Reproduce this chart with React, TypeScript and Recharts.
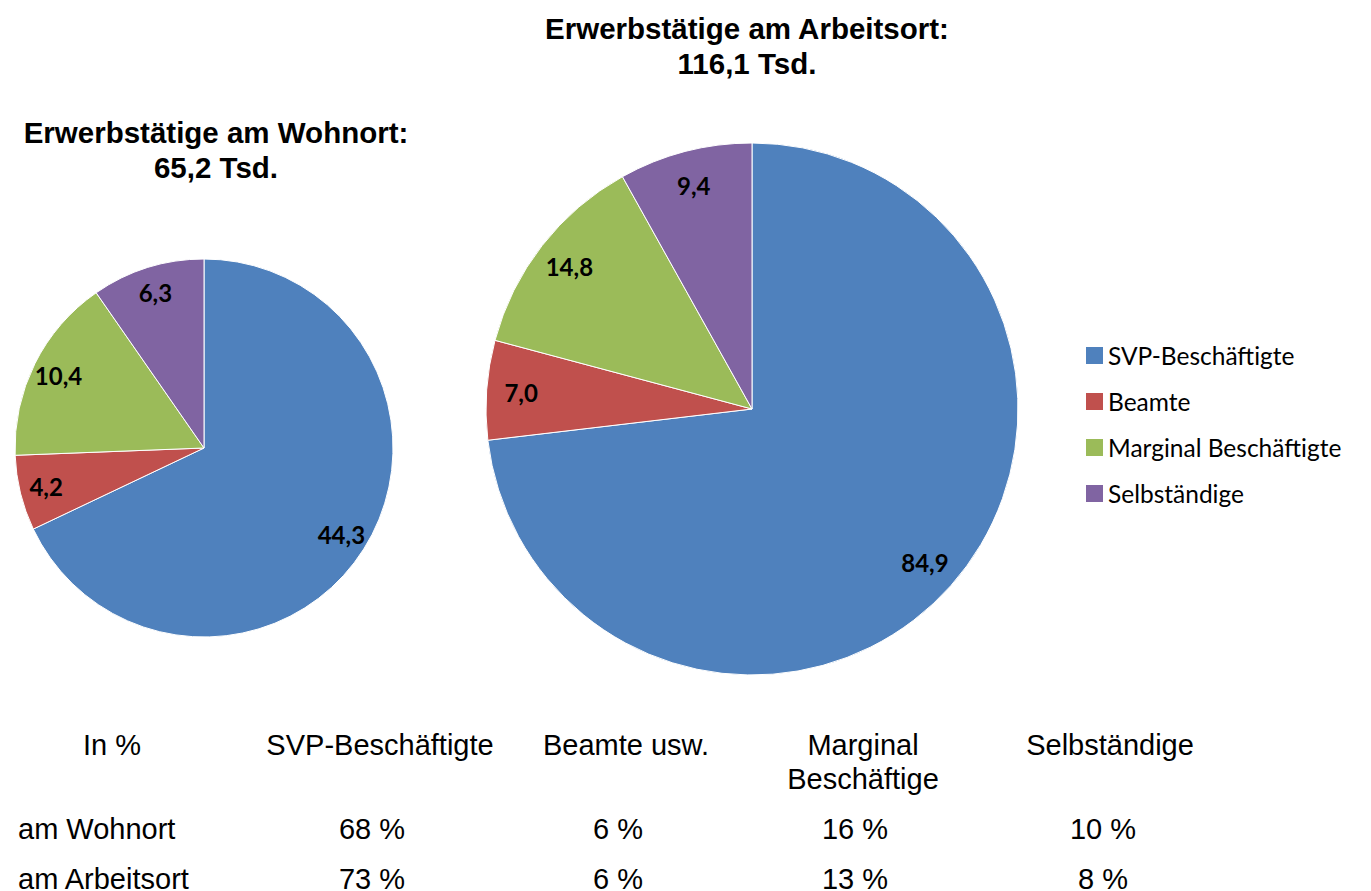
import React from "react";
import { PieChart, Pie, Cell, Legend } from "recharts";

const CATEGORIES = ["SVP-Beschäftigte", "Beamte", "Marginal Beschäftigte", "Selbständige"];
const COLORS = ["#4F81BD", "#C0504D", "#9BBB59", "#8064A2"];

const WOHNORT_VALUES = [44.3, 4.2, 10.4, 6.3];
const ARBEITSORT_VALUES = [84.9, 7.0, 14.8, 9.4];

const TABLE_HEADERS = ["In %", "SVP-Beschäftigte", "Beamte usw.", "Marginal\nBeschäftige", "Selbständige"];
const ROW_LABELS = ["am Wohnort", "am Arbeitsort"];
const WOHNORT_PCT = ["68 %", "6 %", "16 %", "10 %"];
const ARBEITSORT_PCT = ["73 %", "6 %", "13 %", "8 %"];

const wohnortData = CATEGORIES.map((name, i) => ({ name, value: WOHNORT_VALUES[i] }));
const arbeitsortData = CATEGORIES.map((name, i) => ({ name, value: ARBEITSORT_VALUES[i] }));

const RADIAN = Math.PI / 180;

const renderLabel = (factor: number) => (props: any) => {
    const { cx, cy, midAngle, outerRadius, value } = props;
    const r = outerRadius * factor;
    const x = cx + r * Math.cos(-midAngle * RADIAN);
    const y = cy + r * Math.sin(-midAngle * RADIAN);
    return (
        <text
            x={x}
            y={y}
            fill="#000"
            textAnchor="middle"
            dominantBaseline="central"
            style={{ fontFamily: "Lato", fontWeight: 700, fontSize: 24 }}>
            {Number(value).toFixed(1).replace(".", ",")}
        </text>
    );
};

const renderLegend = () => (
    <div style={{ fontFamily: "Lato", fontSize: 24.5, color: "#000" }}>
        {CATEGORIES.map((name, i) => (
            <div key={name} style={{ display: "flex", alignItems: "center", height: 46 }}>
                <span style={{ display: "inline-block", width: 17, height: 17, background: COLORS[i], marginRight: 5 }} />
                <span>{name}</span>
            </div>
        ))}
    </div>
);

// table column centres
const COL_X = [112, 380, 626, 863, 1110];
const VAL_X = [372, 618, 855, 1103];

const App = () => {
    const cellText: React.CSSProperties = {
        position: "absolute",
        fontFamily: "'Liberation Sans', Arial, sans-serif",
        fontSize: 29,
        color: "#000",
        whiteSpace: "pre",
        textAlign: "center",
        lineHeight: "34px"
    };
    const rowText: React.CSSProperties = { ...cellText, lineHeight: "24px" };
    const titleStyle: React.CSSProperties = {
        position: "absolute",
        fontFamily: "'Liberation Sans', Arial, sans-serif",
        fontWeight: 700,
        fontSize: 29.5,
        lineHeight: "35px",
        textAlign: "center",
        color: "#000",
        transform: "translateX(-50%)",
        whiteSpace: "pre"
    };

    return (
        <div style={{ position: "relative", width: 1371, height: 891, background: "#fff", overflow: "hidden" }}>
            <style>{`body{margin:0;overflow:hidden}`}</style>
            <PieChart width={1371} height={891} margin={{ top: 0, right: 0, bottom: 0, left: 0 }}>
                <Pie
                    data={wohnortData}
                    dataKey="value"
                    nameKey="name"
                    cx={204}
                    cy={448}
                    outerRadius={189}
                    startAngle={90}
                    endAngle={-270}
                    stroke="#fff"
                    strokeWidth={1}
                    label={renderLabel(0.86)}
                    labelLine={false}
                    isAnimationActive={false}>
                    {wohnortData.map((entry, index) => (
                        <Cell key={`w-${index}`} fill={COLORS[index % COLORS.length]} />
                    ))}
                </Pie>
                <Pie
                    data={arbeitsortData}
                    dataKey="value"
                    nameKey="name"
                    cx={752}
                    cy={409}
                    outerRadius={266}
                    startAngle={90}
                    endAngle={-270}
                    stroke="#fff"
                    strokeWidth={1}
                    label={renderLabel(0.87)}
                    labelLine={false}
                    isAnimationActive={false}>
                    {arbeitsortData.map((entry, index) => (
                        <Cell key={`a-${index}`} fill={COLORS[index % COLORS.length]} />
                    ))}
                </Pie>
                <Legend
                    content={renderLegend}
                    layout="vertical"
                    wrapperStyle={{ position: "absolute", left: 1086, top: 332, width: 285 }}
                />
            </PieChart>

            <div style={{ ...titleStyle, left: 216, top: 115 }}>{"Erwerbstätige am Wohnort:\n65,2 Tsd."}</div>
            <div style={{ ...titleStyle, left: 747, top: 11 }}>{"Erwerbstätige am Arbeitsort:\n116,1 Tsd."}</div>

            {TABLE_HEADERS.map((h, i) => (
                <div key={h} style={{ ...cellText, left: COL_X[i], top: 728, transform: "translateX(-50%)" }}>
                    {h}
                </div>
            ))}
            {ROW_LABELS.map((label, r) => (
                <div key={label} style={{ ...rowText, left: 18, top: 817 + r * 50, textAlign: "left" }}>
                    {label}
                </div>
            ))}
            {[WOHNORT_PCT, ARBEITSORT_PCT].map((row, r) =>
                row.map((v, i) => (
                    <div key={`${r}-${i}`} style={{ ...rowText, left: VAL_X[i], top: 817 + r * 50, transform: "translateX(-50%)" }}>
                        {v}
                    </div>
                ))
            )}
        </div>
    );
};

export default App;
